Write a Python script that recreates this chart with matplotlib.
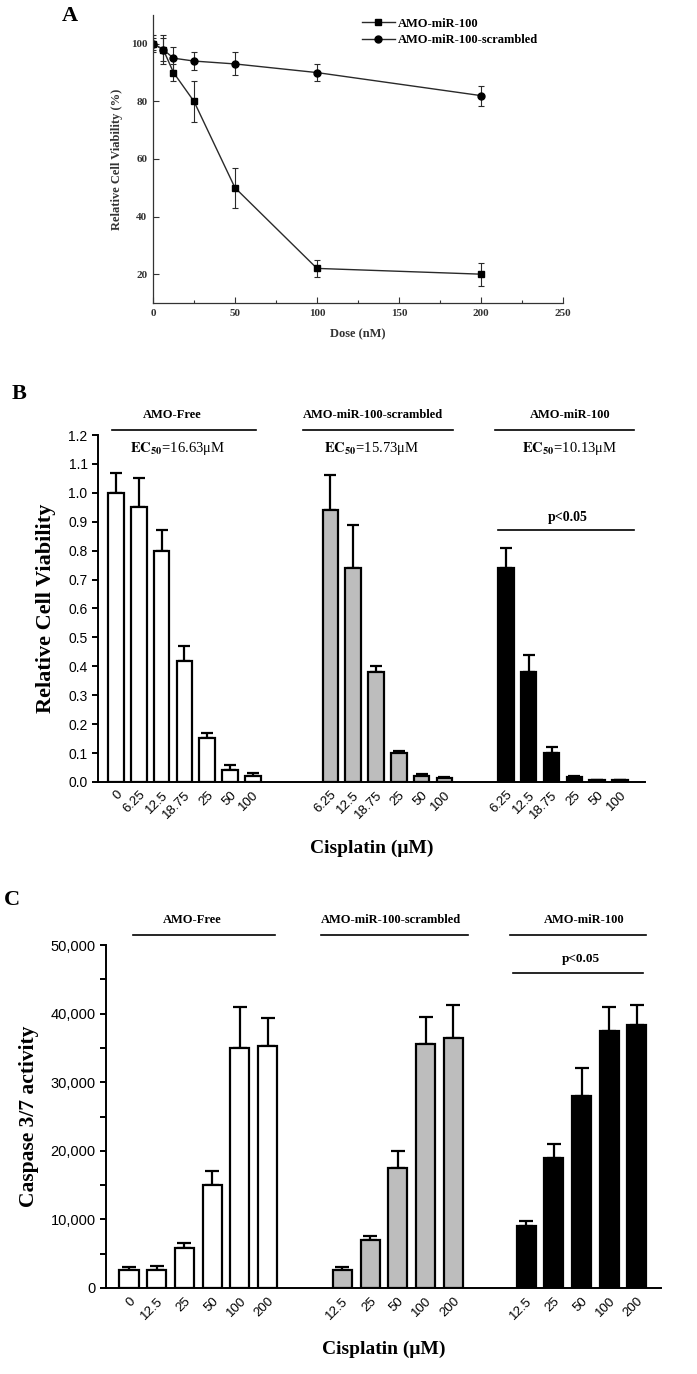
import numpy as np
import matplotlib
matplotlib.use("Agg")
import matplotlib.pyplot as plt
import matplotlib.transforms as mtransforms
from matplotlib.ticker import MultipleLocator, FuncFormatter

plt.rcParams['mathtext.fontset'] = 'stix'
SERIF = 'Liberation Serif'
SANS = 'Liberation Sans'

# ---- Panel A data: viability vs AMO dose ----
dose = [0, 6.25, 12.5, 25, 50, 100, 200]
amo_a = [100, 98, 90, 80, 50, 22, 20]
amo_a_err = [2, 5, 3, 7, 7, 3, 4]
scr_a = [100, 98, 95, 94, 93, 90, 82]
scr_a_err = [3, 4, 4, 3, 4, 3, 3.5]

# ---- Panel B data: viability vs cisplatin ----
group_names = ['AMO-Free', 'AMO-miR-100-scrambled', 'AMO-miR-100']
b_labels = [['0', '6.25', '12.5', '18.75', '25', '50', '100'],
            ['6.25', '12.5', '18.75', '25', '50', '100'],
            ['6.25', '12.5', '18.75', '25', '50', '100']]
b_free = [1.00, 0.95, 0.80, 0.42, 0.152, 0.04, 0.022]
b_free_err = [0.07, 0.10, 0.07, 0.05, 0.018, 0.02, 0.008]
b_scr = [0.94, 0.74, 0.38, 0.10, 0.02, 0.014]
b_scr_err = [0.12, 0.15, 0.02, 0.008, 0.007, 0.004]
b_amo = [0.74, 0.38, 0.10, 0.018, 0.007, 0.007]
b_amo_err = [0.07, 0.06, 0.02, 0.002, 0.001, 0.001]
b_ec50 = ['16.63', '15.73', '10.13']

# ---- Panel C data: caspase 3/7 activity ----
c_labels = [['0', '12.5', '25', '50', '100', '200'],
            ['12.5', '25', '50', '100', '200'],
            ['12.5', '25', '50', '100', '200']]
c_free = [2600, 2650, 5800, 15000, 35000, 35300]
c_free_err = [500, 550, 800, 2000, 6000, 4000]
c_scr = [2600, 7000, 17500, 35500, 36500]
c_scr_err = [400, 650, 2500, 4000, 4700]
c_amo = [9000, 19000, 28000, 37500, 38300]
c_amo_err = [800, 2000, 4000, 3500, 3000]

bar_colors = ['white', '#bdbdbd', 'black']

fig = plt.figure(figsize=(6.97, 13.74), dpi=100)


def bold_serif(size):
    return dict(fontfamily=SERIF, fontweight='bold', fontsize=size)


# ================= Panel A =================
axA = fig.add_axes([0.2195, 0.7795, 0.5882, 0.2096])
line_col = '#2a2a2a'
axA.errorbar(dose, amo_a, yerr=amo_a_err, fmt='none', ecolor=line_col,
             elinewidth=0.8, capsize=2.5, capthick=0.8)
axA.errorbar(dose, scr_a, yerr=scr_a_err, fmt='none', ecolor=line_col,
             elinewidth=0.8, capsize=2.5, capthick=0.8)
axA.plot(dose, amo_a, color=line_col, lw=1.0, marker='s', ms=4.5,
         mfc='black', mec='black', label='AMO-miR-100')
axA.plot(dose, scr_a, color=line_col, lw=1.0, marker='o', ms=5,
         mfc='black', mec='black', label='AMO-miR-100-scrambled')
axA.set_xlim(0, 250)
axA.set_ylim(10, 110)
axA.xaxis.set_major_locator(MultipleLocator(50))
axA.xaxis.set_minor_locator(MultipleLocator(25))
axA.set_yticks([20, 40, 60, 80, 100])
for s in ['top', 'right']:
    axA.spines[s].set_visible(False)
for s in ['left', 'bottom']:
    axA.spines[s].set_linewidth(0.9)
    axA.spines[s].set_color('#333333')
axA.tick_params(which='major', direction='in', length=4, width=0.8, pad=4,
                colors='#333333', labelcolor='#333333')
axA.tick_params(which='minor', direction='in', length=2.5, width=0.8,
                colors='#333333')
for lab in axA.get_xticklabels() + axA.get_yticklabels():
    lab.set_fontfamily(SERIF)
    lab.set_fontweight('bold')
    lab.set_fontsize(8)
axA.set_xlabel('Dose (nM)', labelpad=8, color='#333333', **bold_serif(9))
axA.set_ylabel('Relative Cell Viability (%)', labelpad=6, color='#333333',
               **bold_serif(9))
axA.legend(loc='upper left', bbox_to_anchor=(0.51, 0.99), frameon=False,
           prop=dict(family=SERIF, weight='bold', size=9),
           handlelength=2.6, handletextpad=0.3, labelspacing=0.35,
           borderpad=0, borderaxespad=0)


# ================= bar panels =================
def bar_panel(ax, starts, values, errs, labels, capsize, width):
    ticks, ticklabels = [], []
    for start, v, e, col, lab in zip(starts, values, errs, bar_colors, labels):
        x = start + np.arange(len(v))
        ax.bar(x, v, width, color=col, edgecolor='black', linewidth=1.6,
               zorder=2)
        ax.errorbar(x, v, yerr=[np.zeros(len(e)), e], fmt='none',
                    ecolor='black', elinewidth=1.6, capsize=capsize,
                    capthick=1.6, zorder=1)
        ticks.extend(x)
        ticklabels.extend(lab)
    ax.set_xticks(ticks)
    ax.set_xticklabels(ticklabels, rotation=45, ha='right', va='top',
                       rotation_mode='anchor', fontfamily=SANS, fontsize=9.5)
    for s in ['top', 'right']:
        ax.spines[s].set_visible(False)
    for s in ['left', 'bottom']:
        ax.spines[s].set_linewidth(1.4)
    ax.tick_params(axis='x', length=0, pad=5)
    ax.tick_params(axis='y', direction='out', length=4, width=1.4,
                   labelsize=10)
    for lab in ax.get_yticklabels():
        lab.set_fontfamily(SANS)


def headers(ax, text_x, line_spans, text_y, line_y, size=9):
    trans = mtransforms.blended_transform_factory(ax.transData, ax.transAxes)
    for name, xc, (x0, x1) in zip(group_names, text_x, line_spans):
        ax.plot([x0, x1], [line_y, line_y], color='black', lw=1.2,
                transform=trans, clip_on=False)
        ax.text(xc, text_y, name, transform=trans, ha='center', va='center',
                **bold_serif(size))


# ---- Panel B ----
axB = fig.add_axes([0.1406, 0.4309, 0.7848, 0.2525])
b_starts = [0, 9.4, 17.1]
bar_panel(axB, b_starts, [b_free, b_scr, b_amo],
          [b_free_err, b_scr_err, b_amo_err], b_labels, capsize=4.5,
          width=0.68)
axB.set_xlim(-0.79, 23.2)
axB.set_ylim(0, 1.2)
axB.set_yticks(np.arange(0, 1.21, 0.1))
axB.yaxis.set_major_formatter(FuncFormatter(lambda v, p: f'{v:.1f}'))
for lab in axB.get_yticklabels():
    lab.set_fontfamily(SANS)
    lab.set_fontsize(10)
axB.set_ylabel('Relative Cell Viability', labelpad=9, **bold_serif(16))
headers(axB, [2.46, 11.27, 19.9], [(-0.18, 6.14), (8.2, 14.8), (16.6, 22.7)],
        1.058, 1.0144)
transB = mtransforms.blended_transform_factory(axB.transData, axB.transAxes)
for xc, val in zip([2.72, 11.2, 19.9], b_ec50):
    axB.text(xc, 0.9625, r'$\mathbf{EC}_{\mathbf{50}}$=' + val + 'μM',
             transform=transB, ha='center', va='center', fontfamily=SERIF,
             fontsize=10.5)
axB.plot([16.75, 22.7], [0.871, 0.871], color='black', lw=1.2)
axB.text(19.8, 0.916, 'p<0.05', ha='center', va='center', **bold_serif(10))
axB.text(0.5, -0.19, 'Cisplatin (μM)', transform=axB.transAxes,
         ha='center', va='center', **bold_serif(14))

# ---- Panel C ----
axC = fig.add_axes([0.1521, 0.0626, 0.7963, 0.2496])
c_starts = [0, 7.7, 14.33]
bar_panel(axC, c_starts, [c_free, c_scr, c_amo],
          [c_free_err, c_scr_err, c_amo_err], c_labels, capsize=5,
          width=0.69)
axC.set_xlim(-0.83, 19.2)
axC.set_ylim(0, 50000)
axC.yaxis.set_major_locator(MultipleLocator(10000))
axC.yaxis.set_minor_locator(MultipleLocator(5000))
axC.yaxis.set_major_formatter(FuncFormatter(lambda v, p: f'{int(v):,}'))
axC.tick_params(axis='y', which='minor', direction='out', length=4,
                width=1.4)
for lab in axC.get_yticklabels():
    lab.set_fontfamily(SANS)
    lab.set_fontsize(10.5)
axC.set_ylabel('Caspase 3/7 activity', labelpad=8, **bold_serif(15.5))
headers(axC, [2.27, 9.46, 16.43], [(0.14, 5.27), (6.93, 12.24), (13.75, 18.66)],
        1.0727, 1.0303)
axC.plot([13.86, 18.56], [45860, 45860], color='black', lw=1.2,
         clip_on=False)
axC.text(16.3, 47980, 'p<0.05', ha='center', va='center', **bold_serif(9.5))
axC.text(0.5, -0.178, 'Cisplatin (μM)', transform=axC.transAxes,
         ha='center', va='center', **bold_serif(14))

# ---- panel letters ----
fig.text(70 / 697, 1 - 16 / 1374, 'A', ha='center', va='center',
         **bold_serif(16))
fig.text(19 / 697, 1 - 394 / 1374, 'B', ha='center', va='center',
         **bold_serif(16))
fig.text(12 / 697, 1 - 900 / 1374, 'C', ha='center', va='center',
         **bold_serif(16))

fig.savefig('out.png', dpi=100)
